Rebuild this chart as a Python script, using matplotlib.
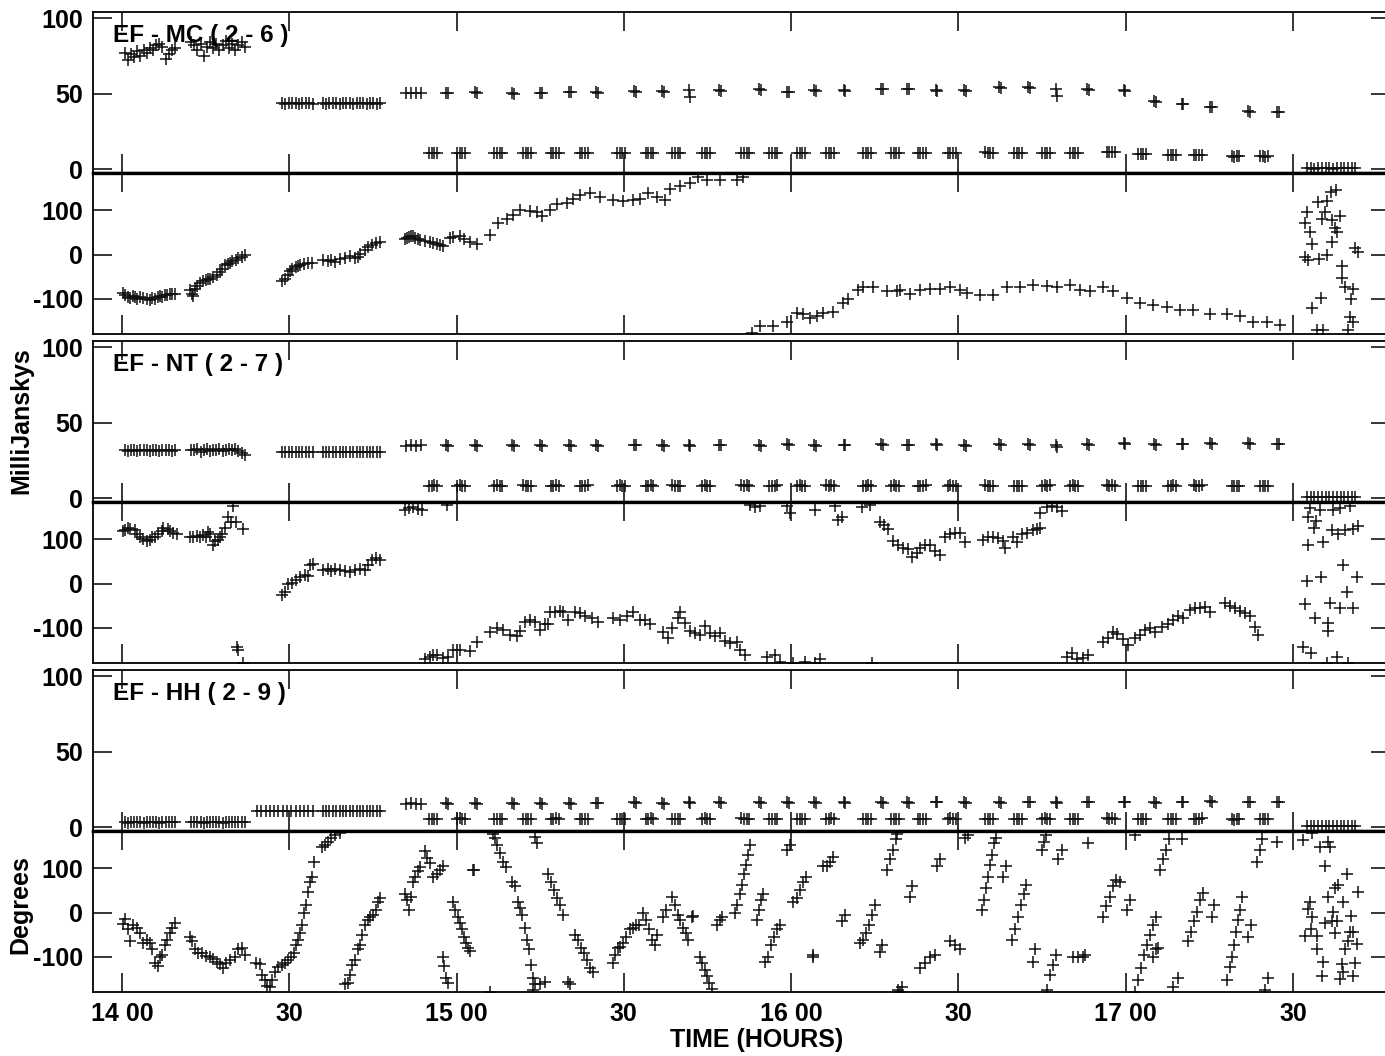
import numpy as np
import matplotlib
matplotlib.use("Agg")
import matplotlib.pyplot as plt

# time in minutes after 14:00 UT
xticks = [0, 30, 60, 90, 120, 150, 180, 210]
xticklabels = ["14 00", "30", "15 00", "30", "16 00", "30", "17 00", "30"]
baselines = ["EF - MC ( 2 - 6 )", "EF - NT ( 2 - 7 )", "EF - HH ( 2 - 9 )"]

# long scans at the start, (start, end)
early_scans = [(0.5, 9.5), (12.4, 22.0), (28.7, 34.2), (36.0, 46.3), (51.0, 53.6)]
hh_early_scans = [(0.5, 9.5), (12.4, 22.0), (24.2, 34.2), (36.0, 46.3), (51.0, 53.6)]
last_scan = (212.5, 221.2)

# phase-referencing cycles: target scan and calibrator scan mid times
tgt_mid = [55.8, 60.8, 67.5, 72.6, 77.6, 82.8, 89.5, 94.6, 99.4, 104.7, 111.8, 116.8,
           121.8, 127.0, 133.6, 138.6, 143.4, 148.8, 155.5, 160.7, 165.7, 170.7, 177.3,
           182.9, 188.3, 192.9, 199.7, 204.8]
cal_mid = [58.3, 63.5, 70.1, 75.1, 80.3, 85.2, 92.0, 97.0, 101.8, 107.2, 114.4, 119.4,
           124.3, 129.6, 136.3, 140.9, 146.1, 151.2, 157.4, 162.6, 167.6, 173.2, 179.8,
           185.2, 190.2, 195.3, 202.1, 207.3]

# amplitudes (mJy)
mc_early_amp = [
    [77, 72, 76, 74, 78, 75, 79, 77, 80, 79, 82, 83, 81, 73, 76, 79, 80],
    [84, 82, 79, 83, 75, 81, 84, 80, 83, 79, 82, 85, 80, 83, 79, 82, 84, 81],
    [43.7, 43.4, 43.8, 43.5, 43.6, 43.3, 43.7, 43.5, 43.6, 43.4],
    [43.6, 43.4, 43.7, 43.5, 43.8, 43.3, 43.6, 43.5, 43.7, 43.4, 43.6, 43.8, 43.5, 43.3, 43.6, 43.7, 43.4, 43.5],
    [50.4, 50.7, 50.2, 50.5]]
nt_early_amp = [
    [31.6, 31.4, 31.7, 31.5, 31.3, 31.6, 31.5, 31.8, 31.4, 31.6, 31.5, 31.3, 31.7, 31.5, 31.6, 31.4, 31.5],
    [32.0, 31.5, 32.2, 30.8, 31.9, 32.3, 31.0, 32.1, 31.6, 32.4, 31.2, 32.0, 32.5, 31.8, 32.2, 31.0, 29.8, 28.6],
    [30.6, 30.4, 30.7, 30.5, 30.6, 30.3, 30.7, 30.5, 30.6, 30.4],
    [30.5, 30.3, 30.6, 30.4, 30.7, 30.5, 30.3, 30.6, 30.4, 30.5, 30.7, 30.4, 30.6, 30.3, 30.5, 30.6, 30.4, 30.5],
    [34.8, 35.1, 34.6, 34.9]]
hh_early_amp = [
    [3.3, 3.0, 3.4, 3.1, 3.3, 3.2, 3.0, 3.4, 3.2, 3.1, 3.3, 3.0, 3.2, 3.4, 3.1, 3.3, 3.2],
    [3.4, 3.1, 3.3, 3.2, 3.0, 3.4, 3.3, 3.1, 3.2, 3.4, 3.0, 3.3, 3.2, 3.4, 3.1, 3.3, 3.2, 3.4],
    [10.7, 10.5, 10.8, 10.6, 10.9, 10.6, 10.7, 10.5, 10.8, 10.6, 10.7, 10.9, 10.6, 10.7],
    [10.8, 10.6, 10.7, 10.5, 10.9, 10.7, 10.6, 10.8, 10.5, 10.7, 10.9, 10.6, 10.8, 10.7, 10.5, 10.8, 10.6, 10.7],
    [15.4, 15.7, 15.3, 15.6]]

mc_tgt_amp = [[10.7, 10.4, 10.8, 10.5], [10.6, 10.9, 10.4, 10.7], [10.5, 10.8, 10.6, 10.4], [10.8, 10.5, 10.7, 10.4],
              [10.6, 10.4, 10.9, 10.6], [10.7, 10.5, 10.6, 10.8], [10.6, 10.8, 10.4, 10.7], [10.5, 10.7, 10.9, 10.6],
              [10.8, 10.4, 10.6, 10.7], [10.6, 10.9, 10.5, 10.6], [10.9, 10.6, 10.8, 10.5], [10.7, 10.4, 10.6, 10.8],
              [10.6, 10.8, 10.5, 10.7], [10.8, 10.6, 10.9, 10.6], [10.7, 10.5, 10.8, 10.6], [10.6, 10.8, 10.5, 10.7],
              [10.7, 10.5, 10.6, 10.8], [10.6, 10.9, 10.7, 10.5], [11.0, 10.7, 10.9, 10.6], [10.8, 10.5, 10.7, 10.9],
              [10.7, 10.9, 10.6, 10.8], [10.6, 10.8, 10.5, 10.7], [11.5, 11.2, 11.6, 11.3], [10.2, 9.9, 10.1, 10.3],
              [9.3, 9.0, 9.4, 9.2], [9.4, 9.1, 9.3, 9.5], [8.5, 8.2, 8.6, 8.4], [8.4, 8.6, 8.3, 8.5]]
mc_cal_amp = [[50.6, 50.1], [50.8, 50.3], [50.2, 49.8], [50.7, 50.3], [51.2, 50.8], [51.3, 50.7], [51.8, 51.2],
              [51.7, 51.3], [52.1, 47.6], [52.3, 51.8], [52.7, 52.2], [51.3, 50.8], [52.2, 51.7], [52.3, 51.9],
              [53.2, 52.8], [53.3, 52.7], [52.4, 51.8], [52.3, 51.9], [54.3, 53.7], [54.5, 53.9], [53.0, 48.5],
              [53.3, 52.6], [52.3, 51.8], [44.8, 44.2], [43.3, 42.8], [41.2, 40.8], [38.3, 37.8], [37.9, 37.5]]
nt_tgt_amp = [[8.3, 8.0, 8.4, 8.1], [8.2, 8.5, 8.0, 8.3], [8.1, 8.4, 8.2, 8.0], [8.4, 8.1, 8.3, 8.0],
              [8.2, 8.0, 8.5, 8.2], [8.3, 8.1, 8.2, 8.4], [8.2, 8.4, 8.0, 8.3], [8.1, 8.3, 8.5, 8.2],
              [8.4, 8.0, 8.2, 8.3], [8.2, 8.5, 8.1, 8.2], [8.5, 8.2, 8.4, 8.1], [8.3, 8.0, 8.2, 8.4],
              [8.2, 8.4, 8.1, 8.3], [8.4, 8.2, 8.5, 8.2], [8.3, 8.1, 8.4, 8.2], [8.2, 8.4, 8.1, 8.3],
              [8.3, 8.1, 8.2, 8.4], [8.2, 8.5, 8.3, 8.1], [8.4, 8.1, 8.3, 8.0], [8.2, 7.9, 8.1, 8.3],
              [8.3, 8.5, 8.2, 8.4], [8.2, 8.4, 8.1, 8.3], [8.5, 8.2, 8.6, 8.3], [8.2, 7.9, 8.1, 8.3],
              [8.3, 8.0, 8.4, 8.2], [8.4, 8.1, 8.3, 8.5], [8.1, 7.8, 8.2, 8.0], [8.0, 8.2, 7.9, 8.1]]
nt_cal_amp = [[35.0, 34.6], [35.1, 34.7], [34.9, 34.5], [35.2, 34.8], [35.0, 34.6], [35.1, 34.5], [35.3, 34.9],
              [35.0, 34.6], [35.2, 34.8], [35.4, 34.9], [35.3, 34.8], [35.5, 35.0], [35.2, 34.7], [35.3, 34.9],
              [35.6, 35.1], [35.4, 34.9], [35.5, 35.0], [35.3, 34.8], [35.7, 35.2], [35.5, 35.0], [35.4, 33.9],
              [35.6, 35.1], [36.2, 35.7], [35.9, 35.4], [36.1, 35.6], [36.3, 35.8], [36.2, 35.7], [36.0, 35.6]]
hh_tgt_amp = [[5.5, 5.2, 5.6, 5.3], [5.4, 5.7, 5.2, 5.5], [5.3, 5.6, 5.4, 5.2], [5.6, 5.3, 5.5, 5.2],
              [5.4, 5.2, 5.7, 5.4], [5.5, 5.3, 5.4, 5.6], [5.4, 5.6, 5.2, 5.5], [5.3, 5.5, 5.7, 5.4],
              [5.6, 5.2, 5.4, 5.5], [5.4, 5.7, 5.3, 5.4], [5.7, 5.4, 5.6, 5.3], [5.5, 5.2, 5.4, 5.6],
              [5.4, 5.6, 5.3, 5.5], [5.6, 5.4, 5.7, 5.4], [5.5, 5.3, 5.6, 5.4], [5.4, 5.6, 5.3, 5.5],
              [5.5, 5.3, 5.4, 5.6], [5.4, 5.7, 5.5, 5.3], [5.6, 5.3, 5.5, 5.2], [5.4, 5.1, 5.3, 5.5],
              [5.5, 5.7, 5.4, 5.6], [5.4, 5.6, 5.3, 5.5], [5.7, 5.4, 5.8, 5.5], [5.4, 5.1, 5.3, 5.5],
              [5.5, 5.2, 5.6, 5.4], [5.6, 5.3, 5.5, 5.7], [5.3, 5.0, 5.4, 5.2], [5.2, 5.4, 5.1, 5.3]]
hh_cal_amp = [[15.8, 15.3], [15.9, 15.4], [16.0, 15.5], [16.1, 15.6], [16.0, 15.5], [16.2, 15.7], [16.3, 15.8],
              [16.1, 15.6], [16.4, 15.9], [16.3, 15.8], [16.5, 16.0], [16.4, 15.9], [16.6, 16.1], [16.5, 16.0],
              [16.7, 16.2], [16.6, 16.1], [16.8, 16.3], [16.6, 16.1], [16.7, 16.2], [16.9, 16.4], [16.7, 16.2],
              [16.8, 16.3], [16.9, 16.4], [16.7, 16.2], [16.8, 16.3], [17.0, 16.5], [16.9, 16.4], [16.8, 16.3]]

mc_last_amp = [0.4, 0.6, 0.3, 0.5, 0.7, 0.4, 0.5, 0.3, 0.6, 0.4, 0.5, 0.7, 0.4, 0.5]
nt_last_amp = [0.5, 0.7, 0.4, 0.6, 0.5, 0.8, 0.4, 0.6, 0.5, 0.7, 0.4, 0.6, 0.5, 0.7]
hh_last_amp = [0.6, 0.8, 0.5, 0.7, 0.6, 0.9, 0.5, 0.7, 0.6, 0.8, 0.5, 0.7, 0.6, 0.8]

# phases (degrees) as (minute, phase)
mc_phase = [
    (0.2, -86), (0.5, -92), (1.1, -95), (1.4, -97), (2.0, -94), (2.3, -96), (2.7, -99), (3.2, -95), (3.8, -98),
    (4.5, -100), (5.0, -103), (5.4, -97), (5.9, -99), (6.5, -95), (6.8, -93), (7.2, -96), (7.7, -92), (8.1, -90),
    (8.6, -88), (9.0, -89), (9.5, -88),
    (12.2, -80), (12.6, -88), (12.7, -93), (13.1, -78), (13.4, -70), (14.0, -63), (14.5, -60), (15.1, -58),
    (15.4, -56), (15.8, -55), (16.3, -50), (17.0, -46), (17.6, -40), (17.9, -32), (18.5, -24), (19.0, -22),
    (19.4, -20), (19.7, -15), (20.4, -12), (20.8, -8), (21.5, -6), (22.1, -2),
    (28.7, -60), (29.2, -55), (29.8, -45), (30.1, -38), (30.5, -32), (31.2, -28), (31.6, -25), (31.9, -23),
    (32.6, -22), (33.4, -20), (34.1, -18),
    (36.0, -13), (36.9, -15), (37.5, -12), (38.2, -16), (39.1, -9), (40.0, -7), (40.9, -4), (41.8, -8),
    (42.3, -6), (42.7, 2), (43.6, 10), (44.1, 18), (44.8, 22), (45.5, 26), (46.3, 29),
    (50.7, 35), (51.1, 38), (51.5, 40), (51.8, 43), (52.2, 41), (52.5, 38), (53.1, 36), (53.4, 33),
    (54.3, 30), (55.2, 28), (55.8, 27), (56.5, 24), (57.0, 22), (57.6, 20),
    (58.8, 38), (59.3, 40), (60.6, 41), (61.3, 35), (62.4, 29), (63.7, 25),
    (66.0, 45), (67.4, 72), (69.0, 81), (70.1, 90), (71.4, 101), (73.2, 99), (74.4, 97), (75.3, 86),
    (76.7, 101), (78.0, 113), (79.8, 117), (80.9, 126), (82.1, 135), (83.9, 140), (85.7, 129),
    (88.0, 124), (89.8, 120), (91.6, 124), (92.9, 126), (94.3, 140), (95.9, 131), (97.4, 124),
    (98.3, 147), (100.0, 154), (101.8, 162), (103.3, 176), (104.9, 169), (107.2, 169),
    (110.3, 169), (111.3, 176),
    (113.0, -176), (114.4, -162), (116.7, -160), (119.2, -151), (121.0, -131), (122.1, -133), (123.4, -142),
    (124.6, -138), (125.7, -131), (127.5, -129), (129.3, -108), (130.2, -101), (132.0, -79), (132.9, -74),
    (134.7, -74), (137.2, -83), (139.0, -83),
    (139.5, -79), (141.3, -88), (143.1, -79), (144.9, -77), (146.7, -77), (148.5, -72), (150.3, -79), (151.5, -86),
    (153.8, -90), (156.2, -90), (158.7, -74), (161.0, -74), (163.3, -68), (165.9, -70), (167.6, -72),
    (170.0, -68), (171.8, -79), (173.6, -81),
    (175.9, -74), (177.7, -81), (180.2, -97), (182.5, -108), (184.9, -113), (187.4, -117), (189.7, -124),
    (192.0, -126), (195.1, -133),
    (198.1, -133), (200.5, -138), (202.8, -151), (205.3, -153), (207.6, -158),
    (212.5, 97), (212.1, 72), (213.0, 50), (213.5, 23), (212.1, -5), (212.7, -13), (214.6, -11), (216.1, -2),
    (214.4, 119), (216.1, 120), (215.7, 97), (216.8, 142), (217.7, 145), (215.2, 81), (217.0, 77), (218.4, 86),
    (217.5, 61), (217.9, 52), (217.0, 29), (221.1, 16), (221.6, 7), (218.8, -25), (218.8, -52), (219.3, -72),
    (220.7, -77), (215.0, -97), (220.4, -99), (213.5, -120), (220.2, -140), (220.7, -153), (214.3, -169),
    (215.3, -169), (219.8, -171)]

nt_phase = [
    (0.2, 118), (0.5, 120), (1.1, 126), (1.4, 122), (2.3, 120), (2.7, 112), (3.2, 106), (3.8, 100), (4.5, 95),
    (5.0, 98), (5.4, 104), (5.9, 106), (6.5, 111), (7.2, 118), (7.4, 126), (8.2, 122), (8.6, 118), (9.1, 113),
    (9.9, 111),
    (12.2, 106), (12.7, 104), (13.4, 108), (14.0, 106), (14.5, 110), (15.1, 106), (15.4, 117), (15.8, 112),
    (16.3, 88), (16.7, 96), (17.2, 99), (17.6, 104), (17.9, 111), (18.5, 126), (19.0, 151), (19.6, 140),
    (19.9, 174), (20.4, 138), (20.6, -142), (20.8, -149), (21.7, 122), (21.7, -178),
    (28.7, -25), (29.2, -18), (29.8, -2), (30.5, 2), (31.2, 9), (31.9, 14), (32.8, 20), (33.4, 18), (33.7, 43),
    (34.2, 45),
    (36.0, 30), (36.9, 32), (37.5, 28), (38.2, 33), (39.1, 30), (40.0, 28), (40.9, 26), (41.8, 31), (42.7, 32),
    (43.6, 30), (44.1, 41), (44.8, 54), (45.5, 58), (46.3, 54),
    (50.7, 167), (51.5, 170), (52.2, 172), (53.1, 168), (53.8, 165), (58.3, 178),
    (54.3, -171), (55.2, -165), (55.8, -160), (56.5, -162), (57.6, -167), (58.5, -165), (59.3, -149),
    (60.6, -149), (62.4, -153), (63.7, -131),
    (66.0, -108), (67.2, -99), (68.3, -104), (69.6, -115), (70.8, -119), (71.4, -106), (72.3, -86), (73.2, -81),
    (74.1, -86), (74.9, -104), (75.8, -92), (76.4, -90), (76.7, -65), (77.6, -63), (78.5, -61), (79.1, -65),
    (80.0, -81), (81.2, -63), (82.1, -67), (83.0, -74), (84.3, -77), (85.3, -86), (88.0, -77), (89.3, -81),
    (90.5, -74), (91.6, -65), (92.9, -81), (93.8, -83), (94.7, -92), (97.0, -108), (97.9, -122), (98.6, -99),
    (99.7, -77), (100.0, -65), (100.9, -88), (101.8, -106), (102.7, -111), (103.6, -115), (104.5, -95),
    (105.4, -111), (106.3, -119), (107.2, -111), (108.1, -129), (109.0, -133), (110.3, -131), (110.8, -149),
    (111.7, -160), (115.6, -165), (117.1, -162), (118.0, -176), (120.3, -178), (122.5, -176), (124.3, -178),
    (125.2, -171), (134.5, -178),
    (112.6, 178), (113.5, 172), (114.4, 174), (119.2, 176), (119.8, 160), (124.3, 167), (127.8, 174),
    (128.4, 144), (129.1, 151), (132.7, 172), (134.1, 178), (135.9, 140), (136.6, 133), (137.3, 122),
    (138.2, 95), (139.1, 88),
    (140.0, 81), (140.9, 77), (141.6, 61), (142.5, 70), (143.1, 81), (144.0, 86), (144.9, 86), (145.8, 74),
    (146.7, 65), (147.6, 104), (148.5, 111), (149.4, 115), (150.3, 113), (151.2, 93),
    (154.4, 99), (155.3, 106), (156.2, 104), (157.1, 102), (158.0, 97), (158.3, 81),
    (159.8, 104), (160.5, 93), (161.4, 111), (162.3, 115), (163.3, 120), (164.1, 122), (164.6, 126),
    (164.6, 160), (165.9, 172), (166.7, 174), (167.6, 172), (168.5, 163),
    (169.4, -165), (170.3, -156), (171.2, -171), (172.3, -167), (173.2, -160),
    (175.9, -131), (176.8, -122), (177.7, -108), (178.4, -113), (179.5, -126), (180.4, -138),
    (181.6, -122), (182.5, -115), (183.4, -104), (184.3, -99), (185.2, -108),
    (186.5, -97), (187.6, -90), (188.4, -81), (189.3, -72), (190.2, -77),
    (191.5, -59), (192.4, -54), (193.3, -54), (194.2, -52), (195.1, -63),
    (197.8, -43), (198.7, -50), (199.6, -54), (200.5, -61), (201.4, -67), (202.3, -74), (203.1, -97),
    (203.7, -115),
    (213.0, 171), (214.8, 167), (217.1, 167), (218.4, 170), (220.2, 174), (212.7, 151), (214.1, 142),
    (213.7, 126), (217.0, 120), (218.0, 111), (219.3, 120), (220.7, 122), (221.6, 129), (212.7, 86), (215.3, 93),
    (218.9, 41), (212.5, 7), (215.0, 16), (221.4, 14), (219.6, -18), (212.1, -47), (216.6, -43), (218.4, -54),
    (220.7, -56), (213.9, -77), (216.2, -88), (216.2, -106), (211.8, -144), (213.2, -156), (216.1, -178),
    (217.9, -165), (219.8, -178)]

hh_phase = [
    (0.2, -25), (0.5, -14), (1.1, -38), (1.4, -63), (2.0, -29), (2.7, -34), (3.2, -47), (3.8, -68), (4.5, -61),
    (5.0, -68), (5.4, -83), (5.9, -113), (6.5, -120), (6.8, -101), (7.2, -95), (7.7, -72), (8.1, -61),
    (8.6, -45), (9.0, -34), (9.5, -23),
    (12.2, -54), (12.6, -65), (13.1, -83), (13.6, -90), (14.3, -92), (15.1, -97), (15.8, -99), (16.3, -104),
    (17.0, -111), (17.6, -115), (18.1, -124), (18.6, -113), (19.4, -106), (20.3, -101), (20.8, -83),
    (21.5, -79), (22.1, -95),
    (24.0, -113), (24.7, -115), (25.1, -140), (25.6, -151), (26.0, -165), (26.5, -167), (26.9, -153),
    (27.4, -133), (28.0, -122), (28.7, -117), (29.2, -113), (29.8, -106), (30.3, -99), (30.8, -90), (31.2, -74),
    (31.6, -61), (31.9, -45), (32.3, -27), (32.6, 0), (33.0, 18), (33.4, 47), (33.7, 68), (34.1, 81), (34.4, 113),
    (35.9, 149), (36.4, 153), (36.9, 160), (37.5, 169), (38.2, 176), (39.1, 180), (40.0, -162), (40.5, -158),
    (40.9, -140), (41.2, -117), (41.8, -106), (42.3, -83), (42.7, -72), (43.0, -50), (43.6, -27), (44.1, -16),
    (44.5, -11), (45.0, -5), (45.5, 7), (45.9, 23), (46.3, 34),
    (50.7, 41), (51.1, 29), (51.5, 7), (51.8, 36), (52.2, 70), (52.5, 81), (53.1, 93), (53.4, 102), (54.3, 138),
    (54.7, 124), (55.2, 111), (55.8, 81), (56.5, 86), (57.0, 97), (57.6, 106),
    (57.6, -99), (57.7, -120), (58.1, -147), (58.5, -158),
    (59.3, 25), (59.7, 7), (60.2, -9), (60.6, -23), (61.0, -38), (61.3, -54), (61.7, -68), (62.0, -79), (62.4, -86),
    (62.9, 97), (63.1, 95),
    (66.0, -178), (66.5, 178), (66.9, 169), (67.2, 153), (67.8, 135), (68.3, 115), (68.9, 102),
    (69.9, 68), (70.5, 59),
    (71.0, 25), (71.4, 11), (71.7, -5), (72.3, -34), (72.6, -61), (73.0, -83), (73.3, -117), (73.7, -147),
    (74.1, -162), (74.1, 171), (74.4, 158), (73.7, -174), (74.9, -162), (75.8, -156),
    (76.4, 86), (76.9, 70), (77.5, 52), (78.0, 34), (78.5, 18), (79.1, -5),
    (80.0, -156), (80.3, -162),
    (81.2, -50), (81.8, -61), (82.3, -79), (82.8, -90), (83.4, -106), (83.9, -124), (84.5, -135),
    (88.0, -113), (88.4, -95), (88.9, -79), (89.3, -77), (89.8, -68), (90.4, -54), (91.1, -38), (91.6, -34),
    (92.2, -29), (92.7, -27),
    (93.4, 0), (94.0, -16), (94.5, -38), (95.0, -61), (95.6, -72), (95.9, -50),
    (97.0, -11), (97.5, 7),
    (98.6, 36), (99.2, 18), (99.7, -5), (100.0, -16), (100.6, -34), (101.1, -45), (101.5, -61),
    (102.2, -9), (102.4, -7),
    (103.6, -99), (104.0, -113), (104.5, -129), (104.9, -144), (105.2, -158), (105.8, -172),
    (106.7, -27), (107.2, -16), (107.6, -11),
    (109.9, 0), (110.3, 18), (110.8, 41), (111.2, 63), (111.5, 86), (111.9, 108), (112.2, 131), (112.6, 153),
    (113.9, -16), (114.2, 7), (114.6, 29), (114.9, 41),
    (115.3, -111), (115.8, -99), (116.4, -72), (116.9, -56), (117.4, -38), (118.0, -27),
    (119.2, 142), (119.8, 153),
    (120.3, 23), (121.0, 34), (121.6, 52), (122.1, 70), (122.6, 81),
    (123.9, -99), (124.0, -95),
    (125.7, 104), (126.4, 106), (126.9, 115), (127.5, 126),
    (129.1, -20), (129.6, -5),
    (132.3, -68), (132.9, -61), (133.4, -45), (133.9, -27), (134.5, -5), (135.0, 18),
    (135.9, -88), (136.3, -74),
    (137.2, 97), (137.7, 120), (138.2, 142), (138.8, 165), (139.0, 178), (139.1, -174), (139.5, -178),
    (139.9, -167),
    (141.3, 36), (141.6, 59),
    (143.1, -124), (144.0, -113), (144.9, -101), (145.8, -95),
    (146.1, 104), (146.7, 120),
    (148.5, -65), (149.4, -72), (150.3, -83),
    (151.2, 169), (151.7, 176),
    (154.2, 7), (154.6, 29), (154.9, 56), (155.3, 81), (155.6, 108), (156.0, 131), (156.3, 158), (156.7, 169),
    (158.0, 81), (158.5, 104),
    (159.6, -61), (160.1, -38), (160.7, -11), (161.2, 18), (161.7, 41), (162.1, 63),
    (163.3, -111), (163.7, -83),
    (165.0, 142), (165.3, 160), (165.7, 176), (165.9, -174), (166.4, -140), (166.9, -117), (167.5, -95),
    (167.8, 120), (168.5, 142),
    (170.5, -99), (171.4, -101), (172.3, -99), (172.7, -95),
    (173.2, 158),
    (175.9, -9), (176.4, 14), (177.1, 36), (177.7, 59), (178.2, 74), (178.9, 70),
    (180.2, 7), (180.7, 29),
    (181.6, 176), (181.6, -178), (182.2, -151), (182.7, -124), (183.2, -95), (183.8, -72), (184.3, -50),
    (184.9, -27), (185.4, -9),
    (184.9, -99), (185.4, -83), (185.8, -79),
    (186.1, 97), (186.7, 120), (187.2, 142), (187.7, 165),
    (188.4, -167), (189.3, -147),
    (190.1, 165),
    (191.1, -65), (191.7, -43), (192.2, -20), (192.7, 2), (193.3, 29), (193.8, 45),
    (195.4, -11), (195.8, 18),
    (198.1, -151), (198.7, -122), (199.0, -99), (199.4, -72), (199.7, -43), (200.1, -16), (200.5, 7), (200.8, 36),
    (201.9, -56), (202.4, -27),
    (203.5, 115), (204.0, 142), (204.4, 165),
    (204.9, -174), (205.5, -147),
    (207.1, 160),
    (211.8, 163), (213.4, 180), (214.8, 147), (216.2, 160), (216.6, 149), (215.7, 104), (219.6, 86), (218.0, 63),
    (217.5, 56), (221.6, 47), (216.2, 36), (213.0, 25), (218.9, 25), (212.7, 9), (217.1, 2), (213.5, -9),
    (220.4, -7), (215.7, -23), (217.0, -20), (217.9, -18), (213.2, -36), (212.1, -52), (214.3, -52), (217.5, -47),
    (220.2, -43), (220.7, -43), (219.8, -65), (221.4, -70), (214.3, -81), (219.3, -81), (215.3, -111),
    (218.8, -115), (221.1, -113), (218.9, -133), (215.2, -142), (218.4, -149), (220.7, -142)]

plt.rcParams['font.family'] = ['Liberation Sans', 'DejaVu Sans']
plt.rcParams['font.weight'] = 'bold'
plt.rcParams['font.size'] = 18
plt.rcParams['axes.unicode_minus'] = False

W, H = 1385, 1056
fig = plt.figure(figsize=(W / 100, H / 100), dpi=100)

mk = dict(marker='+', linestyle='none', color='#111111', markersize=9, markeredgewidth=1.1)


def frame(top, bottom):
    return [93 / W, 1 - bottom / H, (1390 - 93) / W, (bottom - top) / H]


def style(ax, yt):
    ax.set_xlim(-5.2, 227.4)
    ax.set_xticks(xticks)
    ax.set_yticks(yt)
    ax.tick_params(direction='in', length=13.5, width=1.1, top=True, right=True,
                   labelsize=18, pad=7)
    for s in ax.spines.values():
        s.set_linewidth(1.3)


def scans(ax, spans, values):
    for (t0, t1), vals in zip(spans, values):
        ax.plot(np.linspace(t0, t1, len(vals)), vals, **mk)


amp_rows = [(12, 173), (341, 502), (670, 831)]
ph_rows = [(173, 334), (502, 663), (831, 992)]
amp_sets = [(early_scans, mc_early_amp, mc_tgt_amp, mc_cal_amp, mc_last_amp),
            (early_scans, nt_early_amp, nt_tgt_amp, nt_cal_amp, nt_last_amp),
            (hh_early_scans, hh_early_amp, hh_tgt_amp, hh_cal_amp, hh_last_amp)]
phases = [mc_phase, nt_phase, hh_phase]

for i in range(3):
    axa = fig.add_axes(frame(*amp_rows[i]))
    style(axa, [0, 50, 100])
    axa.set_ylim(-2.6, 104)
    axa.set_xticklabels([])
    axa.spines['bottom'].set_linewidth(2.4)
    spans, early, tgt, cal, last = amp_sets[i]
    scans(axa, spans, early)
    scans(axa, [(m - 0.7, m + 0.7) for m in tgt_mid], tgt)
    scans(axa, [(m - 0.15, m + 0.15) for m in cal_mid], cal)
    scans(axa, [last_scan], [last])
    axa.text(0.0154, 0.857, baselines[i], transform=axa.transAxes, fontsize=17.5,
             fontweight='bold', va='center', ha='left', zorder=5)

    axp = fig.add_axes(frame(*ph_rows[i]))
    style(axp, [-100, 0, 100])
    axp.set_ylim(-179, 184)
    axp.spines['top'].set_linewidth(2.4)
    t, p = zip(*phases[i])
    axp.plot(t, p, **mk)
    if i < 2:
        axp.set_xticklabels([])
    else:
        axp.set_xticklabels(xticklabels)

fig.text(757 / W, 1 - 1040 / H, "TIME (HOURS)", ha='center', va='center', fontsize=18, fontweight='bold')
fig.text(21 / W, 1 - 421 / H, "MilliJanskys", rotation=90, ha='center', va='center', fontsize=18,
         fontweight='bold')
fig.text(20 / W, 1 - 905 / H, "Degrees", rotation=90, ha='center', va='center', fontsize=18,
         fontweight='bold')

fig.savefig("out.png", dpi=100)
